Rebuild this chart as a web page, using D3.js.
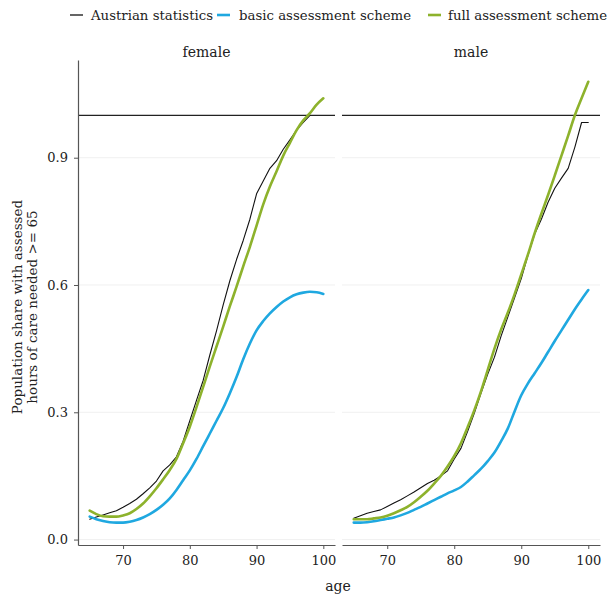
<!DOCTYPE html>
<html>
<head>
<meta charset="utf-8">
<script src="https://cdn.jsdelivr.net/npm/d3@7"></script>
<style>
  body { margin: 0; background: #fff; }
  svg text { font-family: "DejaVu Serif", "Liberation Serif", serif; fill: #222; }
</style>
</head>
<body>
<svg id="chart" width="611" height="595"></svg>
<script>
// ages on the x axis
var ages = d3.range(65, 101);

// female panel
var femaleAustrian = [0.048, 0.053, 0.058, 0.063, 0.068, 0.076, 0.085, 0.095, 0.108, 0.122,
  0.138, 0.162, 0.176, 0.195, 0.232, 0.280, 0.328, 0.375, 0.435, 0.492,
  0.553, 0.610, 0.660, 0.705, 0.755, 0.815, 0.845, 0.875, 0.893, 0.920,
  0.942, 0.965, 0.983, 1.000, null, null];
var femaleBasic = [0.054, 0.048, 0.044, 0.041, 0.040, 0.040, 0.042, 0.046, 0.052, 0.060,
  0.070, 0.082, 0.097, 0.117, 0.140, 0.163, 0.190, 0.220, 0.250, 0.280,
  0.310, 0.345, 0.383, 0.425, 0.462, 0.493, 0.515, 0.533, 0.548, 0.561,
  0.571, 0.578, 0.582, 0.584, 0.583, 0.579];
var femaleFull = [0.068, 0.060, 0.055, 0.054, 0.054, 0.057, 0.062, 0.072, 0.085, 0.102,
  0.121, 0.142, 0.164, 0.190, 0.227, 0.266, 0.312, 0.360, 0.408, 0.455,
  0.502, 0.550, 0.596, 0.644, 0.690, 0.740, 0.790, 0.832, 0.868, 0.905,
  0.935, 0.965, 0.988, 1.005, 1.025, 1.040];

// male panel
var maleAustrian = [0.050, 0.056, 0.062, 0.066, 0.070, 0.078, 0.086, 0.094, 0.103, 0.112,
  0.122, 0.132, 0.140, 0.150, 0.162, 0.190, 0.215, 0.255, 0.298, 0.345,
  0.390, 0.430, 0.480, 0.525, 0.570, 0.615, 0.670, 0.720, 0.755, 0.795,
  0.828, 0.852, 0.875, 0.925, 0.983, 0.983];
var maleBasic = [0.040, 0.040, 0.041, 0.043, 0.046, 0.049, 0.052, 0.057, 0.063, 0.070,
  0.077, 0.085, 0.093, 0.101, 0.109, 0.116, 0.124, 0.137, 0.152, 0.167,
  0.185, 0.205, 0.232, 0.262, 0.302, 0.340, 0.368, 0.392, 0.416, 0.442,
  0.468, 0.493, 0.518, 0.543, 0.566, 0.588];
var maleFull = [0.048, 0.048, 0.048, 0.050, 0.052, 0.056, 0.062, 0.069, 0.077, 0.088,
  0.101, 0.115, 0.132, 0.150, 0.172, 0.197, 0.227, 0.265, 0.305, 0.350,
  0.400, 0.450, 0.495, 0.535, 0.578, 0.625, 0.672, 0.722, 0.768, 0.812,
  0.858, 0.905, 0.952, 1.000, 1.040, 1.079];

var panels = ["female", "male"];
var seriesNames = ["Austrian statistics", "basic assessment scheme", "full assessment scheme"];
var yTicks = [0.0, 0.3, 0.6, 0.9];
var xTicks = [70, 80, 90, 100];
var reference = 1.0;

var panelData = {
  female: [femaleAustrian, femaleBasic, femaleFull],
  male: [maleAustrian, maleBasic, maleFull]
};

var colors = ["#111111", "#1fa8e0", "#8db22c"];
var widths = [1.1, 2.6, 2.6];

var svg = d3.select("#chart");
// note: "top" is reserved on window, so use plotTop
var plotTop = 60, plotBottom = 545;
var panelX = { female: [78, 335], male: [342, 600] };

var y = d3.scaleLinear().domain([-0.0128, 1.1303]).range([plotBottom, plotTop]);

// legend across the top
var keyX = [70, 217, 428];
var labelX = [91, 239, 448];
var legend = svg.append("g").attr("class", "legend");
seriesNames.forEach(function (name, i) {
  legend.append("line")
    .attr("x1", keyX[i]).attr("x2", keyX[i] + 13)
    .attr("y1", 15).attr("y2", 15)
    .attr("stroke", colors[i]).attr("stroke-width", i ? 2.6 : 1.3);
  legend.append("text")
    .attr("x", labelX[i]).attr("y", 15)
    .attr("dy", "0.35em")
    .style("font-size", "13.3px")
    .text(name);
});

panels.forEach(function (p, pi) {
  var x = d3.scaleLinear().domain([63.25, 101.75]).range(panelX[p]);
  var g = svg.append("g").attr("class", "panel " + p);

  // faint gridlines
  g.selectAll(".grid").data(yTicks).enter().append("line")
    .attr("class", "grid")
    .attr("x1", panelX[p][0]).attr("x2", panelX[p][1])
    .attr("y1", function (d) { return y(d); })
    .attr("y2", function (d) { return y(d); })
    .attr("stroke", "#f0f0f0").attr("stroke-width", 1);

  // strip label
  g.append("text")
    .attr("x", (panelX[p][0] + panelX[p][1]) / 2).attr("y", 52)
    .attr("text-anchor", "middle").attr("dy", "0.35em")
    .style("font-size", "14px")
    .text(p);

  // reference line at 1
  g.append("line")
    .attr("x1", panelX[p][0]).attr("x2", panelX[p][1])
    .attr("y1", y(reference)).attr("y2", y(reference))
    .attr("stroke", "#222").attr("stroke-width", 1.2);

  // series lines
  panelData[p].forEach(function (vals, si) {
    var line = d3.line()
      .defined(function (d) { return d != null; })
      .x(function (d, i) { return x(ages[i]); })
      .y(function (d) { return y(d); })
      .curve(si === 0 ? d3.curveLinear : d3.curveMonotoneX);
    g.append("path")
      .datum(vals)
      .attr("fill", "none")
      .attr("stroke", colors[si])
      .attr("stroke-width", widths[si])
      .attr("stroke-linejoin", "round")
      .attr("stroke-linecap", "round")
      .attr("d", line);
  });

  // x axis
  var xAxis = g.append("g")
    .attr("transform", "translate(0," + plotBottom + ")")
    .call(d3.axisBottom(x).tickValues(xTicks).tickSize(4).tickSizeOuter(0).tickPadding(7));
  xAxis.select(".domain").attr("stroke", "#555").attr("stroke-width", 1.2);
  xAxis.selectAll(".tick line").attr("stroke", "#555");
  xAxis.selectAll("text").style("font-size", "13px").attr("fill", "#333")
    .style("font-family", "DejaVu Serif, serif");

  if (pi === 0) {
    var yAxis = g.append("g")
      .attr("transform", "translate(" + panelX[p][0] + ",0)")
      .call(d3.axisLeft(y).tickValues(yTicks).tickFormat(d3.format(".1f")).tickSize(4).tickSizeOuter(0).tickPadding(6));
    yAxis.select(".domain").attr("stroke", "#555").attr("stroke-width", 1.2);
    yAxis.selectAll(".tick line").attr("stroke", "#555");
    yAxis.selectAll("text").style("font-size", "13px").attr("fill", "#333")
      .style("font-family", "DejaVu Serif, serif");
  }
});

// axis titles
svg.append("text")
  .attr("x", 338).attr("y", 586)
  .attr("text-anchor", "middle").attr("dy", "0.35em")
  .style("font-size", "14px")
  .text("age");

var yTitle = svg.append("text")
  .attr("transform", "translate(17,307) rotate(-90)")
  .attr("text-anchor", "middle")
  .style("font-size", "13.5px");
yTitle.append("tspan").attr("x", 0).attr("dy", "0.35em").text("Population share with assessed");
yTitle.append("tspan").attr("x", 0).attr("dy", "1.15em").text("hours of care needed >= 65");
</script>
</body>
</html>
